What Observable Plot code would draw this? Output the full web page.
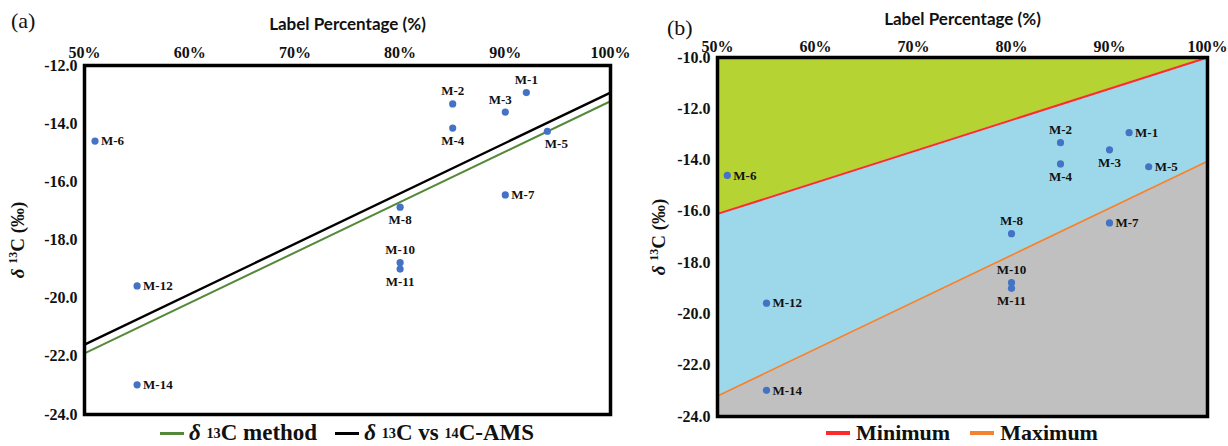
<!DOCTYPE html>
<html>
<head>
<meta charset="utf-8">
<script src="https://cdn.jsdelivr.net/npm/d3@7"></script>
<script src="https://cdn.jsdelivr.net/npm/@observablehq/plot@0.6"></script>
<style>
  html, body { margin: 0; padding: 0; background: #fff; }
  body { width: 1228px; height: 446px; overflow: hidden; position: relative; font-family: "Liberation Serif", serif; }
  .panel { position: absolute; top: 0; }
  .plabel { position: absolute; font-family: "Liberation Serif", serif; font-size: 22px; color: #111; z-index: 2; }
  .legend { position: absolute; top: 420px; height: 26px; display: flex; align-items: center; justify-content: center; font-family: "Liberation Serif", serif; font-weight: bold; color: #111; white-space: nowrap; }
  .legend .item { display: flex; align-items: center; margin: 0 6px; }
  .legend .sw { display: inline-block; width: 24px; height: 3px; margin-right: 5px; }
  .legend sup { font-size: 0.62em; vertical-align: 0.55em; line-height: 0; }
  svg g[aria-label="x-axis label"] { font-family: Lato, "Open Sans", sans-serif; font-size: 17px; font-weight: bold; }
  svg g[aria-label$="tick label"] { font-family: "Liberation Serif", "Times New Roman", serif; font-size: 16px; font-weight: bold; }
</style>
</head>
<body>
<div class="plabel" style="left:11px;top:8px;">(a)</div>
<div class="plabel" style="left:667px;top:15px;">(b)</div>
<div id="pa" class="panel" style="left:0;width:630px;"></div>
<div id="pb" class="panel" style="left:630px;width:598px;"></div>
<div class="legend" style="left:0;width:694px;font-size:23px;">
  <span class="item" style="margin-right:12px"><span class="sw" style="background:#55893a"></span><i>δ</i>&nbsp;<sup>13</sup>C method</span>
  <span class="item"><span class="sw" style="background:#000"></span><i>δ</i>&nbsp;<sup>13</sup>C vs&nbsp;<sup>14</sup>C-AMS</span>
</div>
<div class="legend" style="left:717px;width:490px;font-size:22px;">
  <span class="item" style="margin-right:14px"><span class="sw" style="background:#ff2b2b;width:24px;height:4px;margin-right:6px"></span>Minimum</span>
  <span class="item"><span class="sw" style="background:#f4822f;width:24px;height:4px;margin-right:6px"></span>Maximum</span>
</div>
<script>
// ---- data ----
const samples   = ["M-1","M-2","M-3","M-4","M-5","M-6","M-7","M-8","M-10","M-11","M-12","M-14"];
const labelPct  = [92, 85, 90, 85, 94, 51, 90, 80, 80, 80, 55, 55];
const delta13C  = [-12.93, -13.32, -13.6, -14.15, -14.26, -14.6, -16.45, -16.87, -18.78, -19.0, -19.58, -22.98];
const lineX     = [50, 100];
const methodY   = [-21.9, -13.23];   // δ13C method
const amsY      = [-21.6, -12.93];   // δ13C vs 14C-AMS
const minimumY  = [-16.1, -10.0];
const maximumY  = [-23.2, -14.05];
const xTicks    = [50, 60, 70, 80, 90, 100];
const yTicksA   = [-24, -22, -20, -18, -16, -14, -12];
const yTicksB   = [-24, -22, -20, -18, -16, -14, -12, -10];

const pts = samples.map((name, i) => ({name, x: labelPct[i], y: delta13C[i]}));
const lineA = lineX.map((x, i) => ({x, method: methodY[i], ams: amsY[i]}));
const band = lineX.map((x, i) => ({x, min: minimumY[i], max: maximumY[i]}));

// label placement (style)
const placeA = {"M-1":"top","M-2":"top","M-3":"topleft","M-4":"bottom","M-5":"bottomright","M-6":"right","M-7":"right","M-8":"bottom","M-10":"top","M-11":"bottom","M-12":"right","M-14":"right"};
const placeB = {"M-1":"right","M-2":"top","M-3":"bottom","M-4":"bottom","M-5":"right","M-6":"right","M-7":"right","M-8":"top","M-10":"top","M-11":"bottom","M-12":"right","M-14":"right"};
const offs = {
  top: {dx: 0, dy: -13, textAnchor: "middle"},
  bottom: {dx: 0, dy: 13, textAnchor: "middle"},
  right: {dx: 6, dy: 0, textAnchor: "start"},
  topleft: {dx: -5, dy: -12, textAnchor: "middle"},
  bottomright: {dx: 9, dy: 13, textAnchor: "middle"}
};
const serif = "Liberation Serif, Times New Roman, serif";

function labelMarks(place) {
  return Object.keys(offs).map(k => Plot.text(pts.filter(d => place[d.name] === k), {
    x: "x", y: "y", text: "name", ...offs[k],
    fontSize: 13, fontWeight: "bold", fontFamily: serif, fill: "#111"
  }));
}

function axes(yTicks, yLabelOffset, xLabelOffset, xPad) {
  return [
    Plot.axisX(xTicks, {anchor: "top", tickSize: 0, tickPadding: xPad, tickFormat: d => d + "%",
      fontSize: 16, fontWeight: "bold", fontFamily: serif, fill: "#111",
      label: "Label Percentage (%)", labelAnchor: "center", labelOffset: xLabelOffset, labelArrow: false}),
    Plot.axisY(yTicks, {anchor: "left", tickSize: 0, tickPadding: 7, tickFormat: d => d.toFixed(1),
      fontSize: 16, fontWeight: "bold", fontFamily: serif, fill: "#111",
      label: "δ 13C (‰)", labelAnchor: "center", labelOffset: yLabelOffset, labelArrow: false})
  ];
}

function fixYLabel(svg) {
  const t = svg.querySelector('g[aria-label="y-axis label"] text');
  if (!t) return;
  t.textContent = "";
  const ns = "http://www.w3.org/2000/svg";
  const add = (txt, attrs) => { const s = document.createElementNS(ns, "tspan"); s.textContent = txt; for (const k in attrs) s.setAttribute(k, attrs[k]); t.appendChild(s); };
  add("δ", {"font-style": "italic"});
  add(" ", {});
  add("13", {"font-size": "12", "dy": "-7"});
  add("C (‰)", {"dy": "7"});
  t.setAttribute("font-size", "19");
  t.setAttribute("font-family", serif);
  t.setAttribute("font-weight", "bold");
}

const plotA = Plot.plot({
  width: 630, height: 420,
  marginLeft: 84, marginRight: 20, marginTop: 65, marginBottom: 6,
  x: {domain: [50, 100]},
  y: {domain: [-24, -12]},
  style: {background: "transparent", overflow: "visible"},
  marks: [
    ...axes(yTicksA, 74, 48, 8),
    Plot.line(lineA, {x: "x", y: "method", stroke: "#55893a", strokeWidth: 2}),
    Plot.line(lineA, {x: "x", y: "ams", stroke: "#000", strokeWidth: 2.4}),
    Plot.dot(pts, {x: "x", y: "y", r: 3.6, fill: "#4472c4"}),
    ...labelMarks(placeA),
    Plot.frame({stroke: "#000", strokeWidth: 3.5})
  ]
});
fixYLabel(plotA);
document.getElementById("pa").appendChild(plotA);

const topB = d3.max(yTicksB), botB = d3.min(yTicksB);
const plotB = Plot.plot({
  width: 598, height: 420,
  marginLeft: 87, marginRight: 21, marginTop: 57, marginBottom: 4,
  x: {domain: [50, 100]},
  y: {domain: [botB, topB]},
  style: {background: "transparent", overflow: "visible"},
  marks: [
    Plot.areaY(band, {x: "x", y1: "min", y2: () => topB, fill: "#b6d334"}),
    Plot.areaY(band, {x: "x", y1: "max", y2: "min", fill: "#9dd8ea"}),
    Plot.areaY(band, {x: "x", y1: () => botB, y2: "max", fill: "#c0c0c0"}),
    ...axes(yTicksB, 66, 45, 6),
    Plot.line(band, {x: "x", y: "min", stroke: "#ff2b2b", strokeWidth: 2}),
    Plot.line(band, {x: "x", y: "max", stroke: "#f4822f", strokeWidth: 1.7}),
    Plot.dot(pts, {x: "x", y: "y", r: 3.6, fill: "#4472c4"}),
    ...labelMarks(placeB),
    Plot.frame({stroke: "#000", strokeWidth: 3.5})
  ]
});
fixYLabel(plotB);
document.getElementById("pb").appendChild(plotB);
</script>
</body>
</html>
